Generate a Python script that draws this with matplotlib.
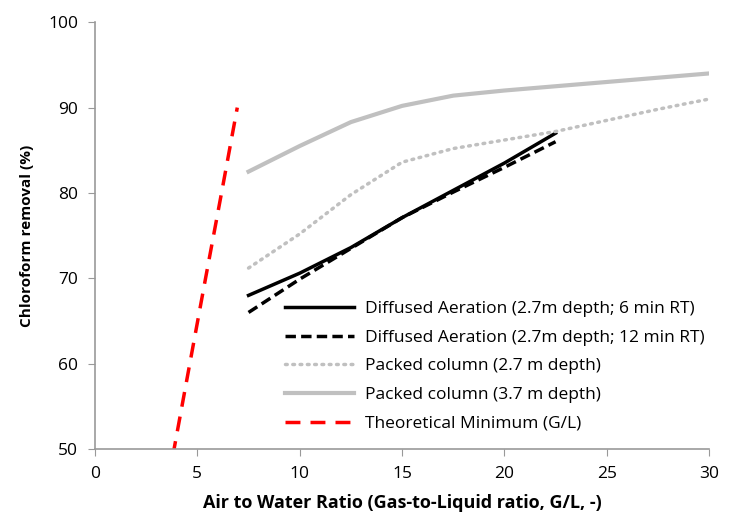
import matplotlib.pyplot as plt

plt.rcParams['font.family'] = ['Open Sans', 'DejaVu Sans']

# data
x_da = [7.5, 10, 12.5, 15, 17.5, 20, 22.5]
da_6min = [68, 70.6, 73.6, 77.1, 80.3, 83.5, 87]
da_12min = [66, 69.9, 73.5, 77.1, 80.1, 83, 86]

x_pc = [7.5, 10, 12.5, 15, 17.5, 20, 22.5, 25, 27.5, 30]
pc_27 = [71.2, 75.2, 79.8, 83.6, 85.2, 86.2, 87.2, 88.5, 89.8, 91]
pc_37 = [82.5, 85.5, 88.3, 90.2, 91.4, 92, 92.5, 93, 93.5, 94]

x_theory = [3.8, 4.63, 5.4, 6.18, 6.95]
theory = [49.2, 60, 70, 80, 90]

fig = plt.figure(figsize=(7.31, 5.17), dpi=100)
ax = fig.add_axes([0.130, 0.1315, 0.840, 0.8255])

ax.plot(x_da, da_6min, color='black', linewidth=2.5,
        label='Diffused Aeration (2.7m depth; 6 min RT)')
ax.plot(x_da, da_12min, color='black', linewidth=2.5, linestyle=(0, (3, 1.5)),
        label='Diffused Aeration (2.7m depth; 12 min RT)')
ax.plot(x_pc, pc_27, color='#c0c0c0', linewidth=2.5, linestyle=(0, (0.5, 1.6)),
        dash_capstyle='round', label='Packed column (2.7 m depth)')
ax.plot(x_pc, pc_37, color='#c0c0c0', linewidth=3,
        label='Packed column (3.7 m depth)')
ax.plot(x_theory, theory, color='red', linewidth=2.5, linestyle=(0, (4.3, 2.9)),
        label='Theoretical Minimum (G/L)')

ax.set_xlim(0, 30)
ax.set_ylim(50, 100)
ax.set_xticks(range(0, 31, 5))
ax.set_yticks(range(50, 101, 10))

for s in ['top', 'right']:
    ax.spines[s].set_visible(False)
for s in ['left', 'bottom']:
    ax.spines[s].set_color('#999999')
    ax.spines[s].set_linewidth(1.2)
ax.tick_params(direction='out', length=5, color='#999999', labelsize=12.5, pad=7)

ax.set_xlabel('Air to Water Ratio (Gas-to-Liquid ratio, G/L, -)',
              fontsize=13, fontweight='bold', labelpad=9)
ax.set_ylabel('Chloroform removal (%)', fontsize=11, fontweight='bold', labelpad=10)

ax.legend(loc='center left', bbox_to_anchor=(0.309, 0.194), frameon=False,
          fontsize=12.5, handlelength=4.0, labelspacing=0.72, handletextpad=0.6,
          borderpad=0, borderaxespad=0)

fig.savefig('out.png', dpi=100)
